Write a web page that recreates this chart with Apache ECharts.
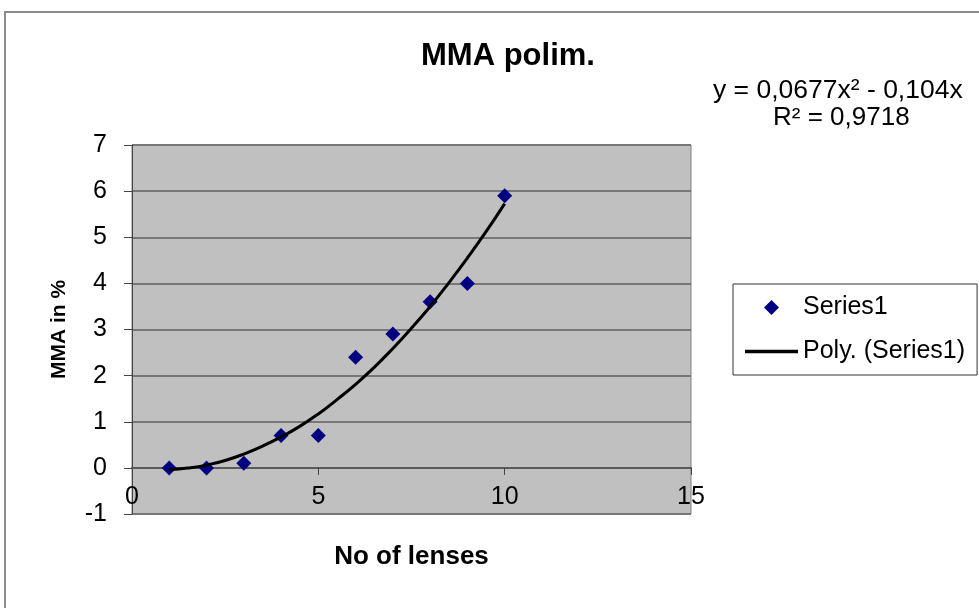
<!DOCTYPE html>
<html>
<head>
<meta charset="utf-8">
<script src="https://cdn.jsdelivr.net/npm/echarts@6/dist/echarts.min.js"></script>
<style>html,body{margin:0;padding:0;background:#fff}#c{width:979px;height:608px}</style>
</head>
<body>
<div id="c"></div>
<script>
var lenses = [1, 2, 3, 4, 5, 6, 7, 8, 9, 10];
var mma = [0.0, 0.0, 0.1, 0.7, 0.7, 2.4, 2.9, 3.6, 4.0, 5.9];
var trendX = [1, 1.5, 2, 2.5, 3, 3.5, 4, 4.5, 5, 5.5, 6, 6.5, 7, 7.5, 8, 8.5, 9, 9.5, 10];
var trendY = [-0.04, -0.004, 0.06, 0.16, 0.30, 0.47, 0.67, 0.90, 1.17, 1.48, 1.81, 2.18, 2.59, 3.03, 3.50, 4.01, 4.55, 5.12, 5.73];
var xTicks = [0, 5, 10, 15];
var yTicks = [-1, 0, 1, 2, 3, 4, 5, 6, 7];
var titleText = 'MMA polim.';
var eqLine1 = 'y = 0,0677x\u00B2 - 0,104x';
var eqLine2 = 'R\u00B2 = 0,9718';

var FONT = 'Liberation Sans, Arial, sans-serif';
var chart = echarts.init(document.getElementById('c'), null, {renderer: 'canvas'});
var option = {
  backgroundColor: '#fff',
  animation: false,
  textStyle: {fontFamily: FONT},
  title: {
    text: titleText, left: 416, top: 36,
    textStyle: {fontSize: 31, fontWeight: 'bold', color: '#000', fontFamily: FONT}
  },
  graphic: [
    {type: 'rect', shape: {x: 5, y: 12, width: 1200, height: 1000}, style: {fill: 'none', stroke: '#8c8c8c', lineWidth: 2}, silent: true},
    {type: 'text', left: 713, top: 77, style: {text: eqLine1, fontSize: 26.5, fontFamily: FONT, fill: '#000'}},
    {type: 'text', left: 773, top: 105, style: {text: eqLine2, fontSize: 26, fontFamily: FONT, fill: '#000'}}
  ],
  legend: {
    orient: 'vertical', left: 733, top: 284,
    padding: [11, 12, 11, 12], itemGap: 19, itemWidth: 53, itemHeight: 15,
    symbolKeepAspect: true,
    borderColor: '#333', borderWidth: 1, backgroundColor: '#fff',
    textStyle: {fontSize: 25, color: '#000', fontFamily: FONT},
    data: [
      {name: 'Series1', icon: 'path://M7,0 L14,7 L7,14 L0,7 Z'},
      {name: 'Poly. (Series1)', icon: 'path://M0,0 L53,0 L53,3.5 L0,3.5 Z'}
    ]
  },
  grid: {
    left: 132, right: 288, top: 145, bottom: 94,
    outerBoundsMode: 'none', containLabel: false,
    show: true, backgroundColor: '#C0C0C0', borderColor: '#808080', borderWidth: 1
  },
  xAxis: {
    type: 'value', min: 0, max: 15, interval: 5,
    name: 'No of lenses', nameLocation: 'middle', nameGap: 30,
    nameTextStyle: {fontSize: 26, fontWeight: 'bold', color: '#000', fontFamily: FONT},
    axisLine: {show: true, onZero: true, lineStyle: {color: '#5a5a5a', width: 2}},
    axisTick: {show: true, length: 7, lineStyle: {color: '#444'}},
    axisLabel: {fontSize: 25, color: '#000', margin: -29, fontFamily: FONT},
    splitLine: {show: false}
  },
  yAxis: {
    type: 'value', min: -1, max: 7, interval: 1,
    name: 'MMA in %', nameLocation: 'middle', nameGap: 62,
    nameTextStyle: {fontSize: 21, fontWeight: 'bold', color: '#000', fontFamily: FONT},
    axisLine: {show: true, onZero: false, lineStyle: {color: '#444', width: 1}},
    axisTick: {show: true, length: 8, lineStyle: {color: '#444'}},
    axisLabel: {fontSize: 25, color: '#000', margin: 25, fontFamily: FONT},
    splitLine: {show: true, lineStyle: {color: '#777', width: 2}}
  },
  series: [
    {
      name: 'Series1', type: 'scatter', symbol: 'diamond', symbolSize: 15,
      itemStyle: {color: '#000080', opacity: 1},
      data: lenses.map(function (x, i) { return [x, mma[i]]; }),
      z: 3
    },
    {
      name: 'Poly. (Series1)', type: 'line', smooth: true, symbol: 'none',
      lineStyle: {color: '#000', width: 3}, itemStyle: {color: '#000'},
      data: trendX.map(function (x, i) { return [x, trendY[i]]; }),
      z: 4
    }
  ]
};
chart.setOption(option);
</script>
</body>
</html>
